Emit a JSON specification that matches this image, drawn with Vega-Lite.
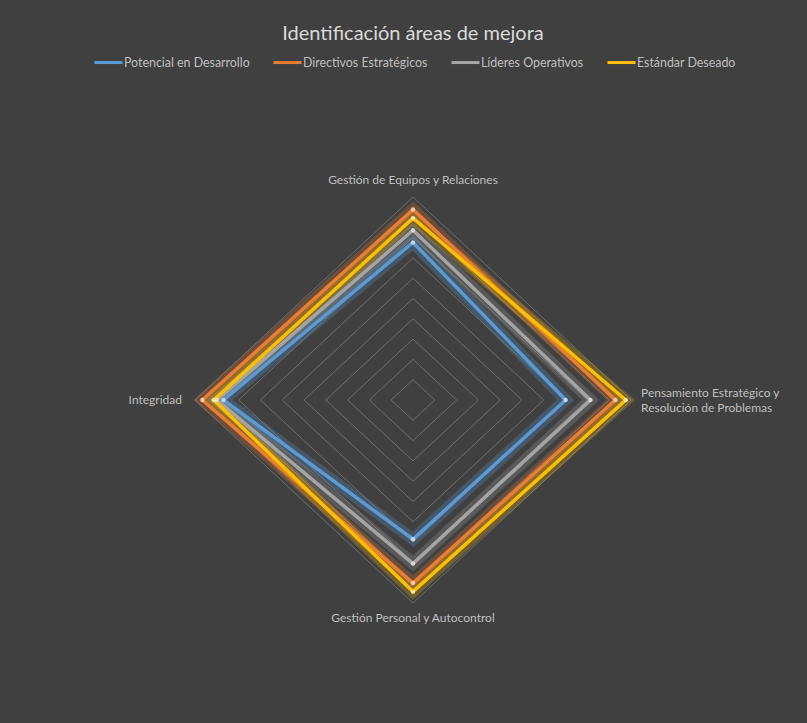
{
  "$schema": "https://vega.github.io/schema/vega-lite/v6.json",
  "autosize": {"type": "none"},
  "width": 436,
  "height": 406,
  "padding": {"left": 195, "top": 197, "right": 176, "bottom": 120},
  "background": "#404040",
  "title": {
    "text": "Identificación áreas de mejora",
    "anchor": "middle",
    "frame": "group",
    "offset": 3,
    "font": "Lato",
    "fontSize": 20,
    "fontWeight": "normal",
    "color": "#d9d9d9"
  },
  "config": {
    "view": {"stroke": null},
    "legend": {
      "orient": "none",
      "legendX": -102,
      "legendY": -150,
      "direction": "horizontal",
      "symbolType": "stroke",
      "symbolSize": 784,
      "symbolStrokeWidth": 3,
      "symbolOpacity": 1,
      "labelColor": "#bfbfbf",
      "labelFont": "Lato",
      "labelFontSize": 12.4,
      "columnPadding": 17,
      "labelOffset": 0,
      "title": null
    }
  },
  "datasets": {
    "series": [
      {"serie": "Potencial en Desarrollo", "eje": "Gestión de Equipos y Relaciones", "valor": 3.88},
      {"serie": "Potencial en Desarrollo", "eje": "Pensamiento Estratégico y Resolución de Problemas", "valor": 3.5},
      {"serie": "Potencial en Desarrollo", "eje": "Gestión Personal y Autocontrol", "valor": 3.43},
      {"serie": "Potencial en Desarrollo", "eje": "Integridad", "valor": 4.35},
      {"serie": "Directivos Estratégicos", "eje": "Gestión de Equipos y Relaciones", "valor": 4.69},
      {"serie": "Directivos Estratégicos", "eje": "Pensamiento Estratégico y Resolución de Problemas", "valor": 4.64},
      {"serie": "Directivos Estratégicos", "eje": "Gestión Personal y Autocontrol", "valor": 4.51},
      {"serie": "Directivos Estratégicos", "eje": "Integridad", "valor": 4.83},
      {"serie": "Líderes Operativos", "eje": "Gestión de Equipos y Relaciones", "valor": 4.18},
      {"serie": "Líderes Operativos", "eje": "Pensamiento Estratégico y Resolución de Problemas", "valor": 4.07},
      {"serie": "Líderes Operativos", "eje": "Gestión Personal y Autocontrol", "valor": 4.03},
      {"serie": "Líderes Operativos", "eje": "Integridad", "valor": 4.5},
      {"serie": "Estándar Deseado", "eje": "Gestión de Equipos y Relaciones", "valor": 4.48},
      {"serie": "Estándar Deseado", "eje": "Pensamiento Estratégico y Resolución de Problemas", "valor": 4.88},
      {"serie": "Estándar Deseado", "eje": "Gestión Personal y Autocontrol", "valor": 4.72},
      {"serie": "Estándar Deseado", "eje": "Integridad", "valor": 4.57}
    ],
    "niveles": [
      {"nivel": 0.5}, {"nivel": 1}, {"nivel": 1.5}, {"nivel": 2}, {"nivel": 2.5},
      {"nivel": 3}, {"nivel": 3.5}, {"nivel": 4}, {"nivel": 4.5}, {"nivel": 5}
    ],
    "ejes": [
      {"eje": "Gestión de Equipos y Relaciones", "etiqueta": "Gestión de Equipos y Relaciones", "valor": 5},
      {"eje": "Pensamiento Estratégico y Resolución de Problemas", "etiqueta": "Pensamiento Estratégico y\nResolución de Problemas", "valor": 5},
      {"eje": "Gestión Personal y Autocontrol", "etiqueta": "Gestión Personal y Autocontrol", "valor": 5},
      {"eje": "Integridad", "etiqueta": "Integridad", "valor": 5}
    ]
  },
  "layer": [
    {
      "data": {"name": "niveles"},
      "transform": [
        {"calculate": "[0,1,2,3]", "as": "k"},
        {"flatten": ["k"]},
        {"calculate": "datum.nivel * sin(datum.k * PI / 2)", "as": "px"},
        {"calculate": "datum.nivel * cos(datum.k * PI / 2)", "as": "py"}
      ],
      "mark": {"type": "line", "interpolate": "linear-closed", "color": "#6e6e6e", "strokeWidth": 1},
      "encoding": {
        "x": {"field": "px", "type": "quantitative", "scale": {"domain": [-5, 5], "nice": false, "zero": false}, "axis": null},
        "y": {"field": "py", "type": "quantitative", "scale": {"domain": [-5, 5], "nice": false, "zero": false}, "axis": null},
        "detail": {"field": "nivel"},
        "order": {"field": "k"}
      }
    },
    {
      "data": {"name": "series"},
      "transform": [
        {"calculate": "indexof(['Gestión de Equipos y Relaciones','Pensamiento Estratégico y Resolución de Problemas','Gestión Personal y Autocontrol','Integridad'], datum.eje)", "as": "k"},
        {"calculate": "datum.valor * sin(datum.k * PI / 2)", "as": "px"},
        {"calculate": "datum.valor * cos(datum.k * PI / 2)", "as": "py"}
      ],
      "layer": [
        {
          "mark": {"type": "line", "interpolate": "linear-closed", "strokeWidth": 12, "opacity": 0.25},
          "encoding": {
            "x": {"field": "px", "type": "quantitative"},
            "y": {"field": "py", "type": "quantitative"},
            "color": {"field": "serie", "type": "nominal",
              "scale": {"domain": ["Potencial en Desarrollo", "Directivos Estratégicos", "Líderes Operativos", "Estándar Deseado"],
                        "range": ["#5B9BD5", "#ED7D31", "#A5A5A5", "#FFC000"]}},
            "order": {"field": "k"}
          }
        },
        {
          "mark": {"type": "line", "interpolate": "linear-closed", "strokeWidth": 3.5},
          "encoding": {
            "x": {"field": "px", "type": "quantitative"},
            "y": {"field": "py", "type": "quantitative"},
            "color": {"field": "serie", "type": "nominal"},
            "order": {"field": "k"}
          }
        },
        {
          "mark": {"type": "point", "filled": true, "size": 20, "color": "#ffffff", "opacity": 0.6},
          "encoding": {
            "x": {"field": "px", "type": "quantitative"},
            "y": {"field": "py", "type": "quantitative"}
          }
        }
      ]
    },
    {
      "data": {"name": "ejes"},
      "transform": [
        {"calculate": "indexof(['Gestión de Equipos y Relaciones','Pensamiento Estratégico y Resolución de Problemas','Gestión Personal y Autocontrol','Integridad'], datum.eje)", "as": "k"},
        {"calculate": "datum.valor * sin(datum.k * PI / 2)", "as": "px"},
        {"calculate": "datum.valor * cos(datum.k * PI / 2)", "as": "py"}
      ],
      "layer": [
        {
          "transform": [{"filter": "datum.k == 0"}],
          "mark": {"type": "text", "align": "center", "baseline": "bottom", "dy": -10, "font": "Lato", "fontSize": 12, "color": "#bfbfbf"},
          "encoding": {"x": {"field": "px", "type": "quantitative"}, "y": {"field": "py", "type": "quantitative"}, "text": {"field": "etiqueta"}}
        },
        {
          "transform": [{"filter": "datum.k == 1"}],
          "mark": {"type": "text", "align": "left", "baseline": "middle", "dx": 10, "dy": -7, "lineBreak": "\n", "lineHeight": 15, "font": "Lato", "fontSize": 12, "color": "#bfbfbf"},
          "encoding": {"x": {"field": "px", "type": "quantitative"}, "y": {"field": "py", "type": "quantitative"}, "text": {"field": "etiqueta"}}
        },
        {
          "transform": [{"filter": "datum.k == 2"}],
          "mark": {"type": "text", "align": "center", "baseline": "top", "dy": 10, "font": "Lato", "fontSize": 12, "color": "#bfbfbf"},
          "encoding": {"x": {"field": "px", "type": "quantitative"}, "y": {"field": "py", "type": "quantitative"}, "text": {"field": "etiqueta"}}
        },
        {
          "transform": [{"filter": "datum.k == 3"}],
          "mark": {"type": "text", "align": "right", "baseline": "middle", "dx": -13, "font": "Lato", "fontSize": 12, "color": "#bfbfbf"},
          "encoding": {"x": {"field": "px", "type": "quantitative"}, "y": {"field": "py", "type": "quantitative"}, "text": {"field": "etiqueta"}}
        }
      ]
    }
  ]
}
